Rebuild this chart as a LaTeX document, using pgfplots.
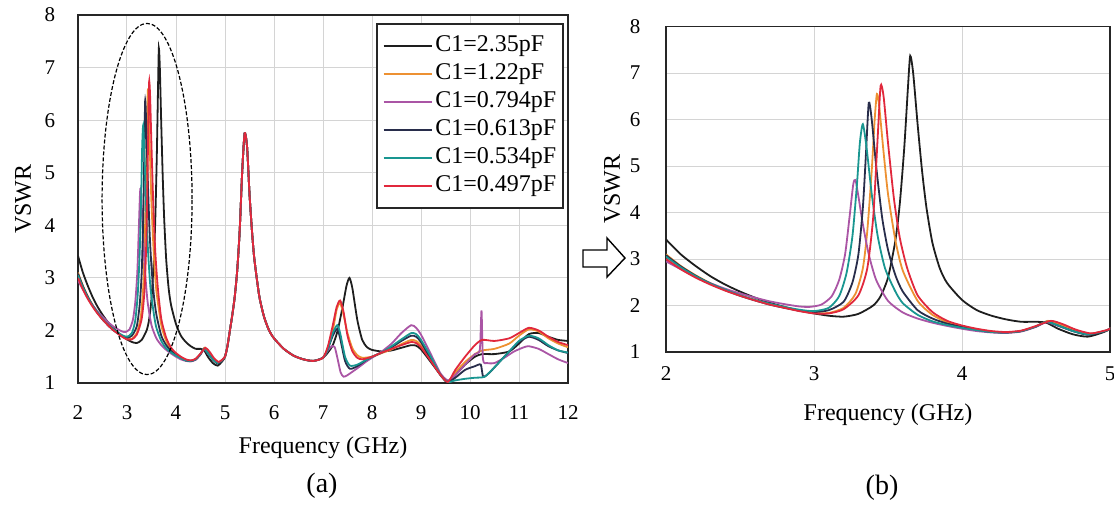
\documentclass[border=0pt]{standalone}
\usepackage{fontspec}
\setmainfont{Liberation Serif}
\usepackage{pgfplots}
\usepackage{pgfplotstable}
\pgfplotsset{compat=1.18}

\definecolor{cBlack}{RGB}{30,30,30}
\definecolor{cOrange}{RGB}{237,145,50}
\definecolor{cPurple}{RGB}{170,85,165}
\definecolor{cNavy}{RGB}{40,45,75}
\definecolor{cTeal}{RGB}{25,150,145}
\definecolor{cRed}{RGB}{225,40,60}
\definecolor{cGrid}{RGB}{212,212,212}

% C1 = 2.35 pF
\pgfplotstableread{
f v
2.0 3.42
2.1 3.1
2.2 2.85
2.3 2.63
2.4 2.45
2.5 2.3
2.6 2.17
2.7 2.06
2.8 1.97
2.9 1.89
3.0 1.83
3.1 1.78
3.2 1.76
3.3 1.82
3.4 2.0
3.45 2.2
3.5 2.6
3.55 3.4
3.58 4.2
3.61 5.4
3.635 6.7
3.65 7.37
3.67 7.0
3.7 5.9
3.73 4.9
3.76 4.1
3.8 3.35
3.85 2.8
3.9 2.48
4.0 2.12
4.1 1.9
4.2 1.78
4.3 1.7
4.4 1.65
4.5 1.65
4.57 1.63
4.65 1.5
4.75 1.38
4.85 1.33
4.95 1.42
5.0 1.5
5.05 1.7
5.1 2.0
5.15 2.3
5.2 2.65
5.25 3.15
5.3 3.9
5.35 5.0
5.4 5.75
5.45 5.5
5.5 4.6
5.55 3.9
5.6 3.35
5.7 2.65
5.8 2.25
5.9 2.0
6.0 1.85
6.2 1.65
6.4 1.52
6.6 1.45
6.8 1.42
7.0 1.48
7.1 1.58
7.2 1.72
7.3 2.0
7.4 2.45
7.48 2.85
7.54 3.0
7.6 2.8
7.7 2.2
7.8 1.82
7.9 1.68
8.0 1.63
8.2 1.6
8.4 1.62
8.6 1.67
8.8 1.72
8.9 1.71
9.0 1.64
9.2 1.4
9.4 1.15
9.55 1.0
9.7 1.15
9.9 1.35
10.1 1.5
10.25 1.55
10.5 1.55
10.8 1.6
11.0 1.75
11.2 1.93
11.4 1.95
11.6 1.88
11.8 1.82
12.0 1.8
}\tA

% C1 = 1.22 pF
\pgfplotstableread{
f v
2.0 3.1
2.1 2.85
2.2 2.65
2.3 2.48
2.4 2.34
2.5 2.22
2.6 2.12
2.7 2.03
2.8 1.96
2.9 1.89
3.0 1.84
3.1 1.84
3.2 1.95
3.28 2.25
3.33 2.8
3.36 3.6
3.39 4.9
3.41 6.0
3.425 6.55
3.44 6.3
3.47 5.3
3.5 4.4
3.55 3.4
3.6 2.75
3.7 2.1
3.8 1.8
3.9 1.64
4.0 1.55
4.1 1.49
4.2 1.44
4.3 1.42
4.4 1.45
4.5 1.55
4.58 1.67
4.66 1.6
4.75 1.48
4.85 1.39
4.95 1.44
5.0 1.5
5.05 1.7
5.1 2.0
5.15 2.3
5.2 2.65
5.25 3.15
5.3 3.9
5.35 5.0
5.4 5.75
5.45 5.5
5.5 4.6
5.55 3.9
5.6 3.35
5.7 2.65
5.8 2.25
5.9 2.0
6.0 1.85
6.2 1.65
6.4 1.52
6.6 1.45
6.8 1.42
7.0 1.48
7.1 1.68
7.2 2.0
7.28 2.4
7.34 2.52
7.4 2.38
7.5 1.95
7.6 1.66
7.7 1.53
7.8 1.48
8.0 1.5
8.2 1.57
8.4 1.64
8.6 1.74
8.8 1.82
8.9 1.8
9.0 1.72
9.2 1.45
9.4 1.15
9.55 1.03
9.7 1.2
9.9 1.4
10.1 1.55
10.25 1.62
10.5 1.65
10.8 1.75
11.0 1.9
11.2 2.02
11.4 1.98
11.6 1.85
11.8 1.75
12.0 1.68
}\tB

% C1 = 0.794 pF
\pgfplotstableread{
f v
2.0 2.95
2.1 2.78
2.2 2.62
2.3 2.48
2.4 2.36
2.5 2.26
2.6 2.17
2.7 2.09
2.8 2.03
2.9 1.98
2.97 1.97
3.05 2.02
3.12 2.2
3.17 2.55
3.21 3.1
3.24 3.9
3.265 4.6
3.28 4.7
3.3 4.35
3.33 3.75
3.37 3.1
3.42 2.55
3.5 2.1
3.6 1.85
3.7 1.72
3.8 1.63
3.9 1.56
4.0 1.5
4.1 1.45
4.2 1.42
4.3 1.41
4.4 1.44
4.5 1.54
4.57 1.64
4.65 1.56
4.75 1.45
4.85 1.38
4.95 1.44
5.0 1.5
5.05 1.7
5.1 2.0
5.15 2.3
5.2 2.65
5.25 3.15
5.3 3.9
5.35 5.0
5.4 5.75
5.45 5.5
5.5 4.6
5.55 3.9
5.6 3.35
5.7 2.65
5.8 2.25
5.9 2.0
6.0 1.85
6.2 1.65
6.4 1.52
6.6 1.45
6.8 1.42
7.0 1.48
7.1 1.62
7.18 1.7
7.24 1.68
7.3 1.45
7.36 1.2
7.42 1.12
7.5 1.15
7.7 1.28
7.9 1.42
8.0 1.48
8.2 1.6
8.4 1.75
8.6 1.95
8.8 2.1
8.9 2.05
9.0 1.92
9.2 1.55
9.4 1.18
9.55 1.05
9.7 1.15
9.9 1.35
10.1 1.55
10.2 1.63
10.235 2.38
10.265 1.45
10.35 1.38
10.5 1.38
10.7 1.48
10.9 1.6
11.1 1.68
11.2 1.7
11.4 1.65
11.6 1.55
11.8 1.45
12.0 1.38
}\tC

% C1 = 0.613 pF
\pgfplotstableread{
f v
2.0 3.08
2.1 2.84
2.2 2.64
2.3 2.47
2.4 2.33
2.5 2.21
2.6 2.11
2.7 2.02
2.8 1.95
2.9 1.89
3.0 1.86
3.1 1.9
3.2 2.08
3.26 2.5
3.3 3.1
3.33 4.1
3.35 5.2
3.37 6.36
3.39 6.0
3.42 5.0
3.46 3.9
3.5 3.2
3.55 2.65
3.6 2.3
3.7 1.9
3.8 1.72
3.9 1.61
4.0 1.54
4.1 1.48
4.2 1.43
4.3 1.42
4.4 1.45
4.5 1.55
4.57 1.65
4.65 1.57
4.75 1.45
4.85 1.37
4.95 1.43
5.0 1.5
5.05 1.7
5.1 2.0
5.15 2.3
5.2 2.65
5.25 3.15
5.3 3.9
5.35 5.0
5.4 5.75
5.45 5.5
5.5 4.6
5.55 3.9
5.6 3.35
5.7 2.65
5.8 2.25
5.9 2.0
6.0 1.85
6.2 1.65
6.4 1.52
6.6 1.45
6.8 1.42
7.0 1.48
7.1 1.65
7.2 1.9
7.29 2.03
7.35 1.85
7.45 1.42
7.55 1.27
7.7 1.32
7.9 1.45
8.0 1.5
8.2 1.58
8.4 1.68
8.6 1.8
8.8 1.9
8.9 1.88
9.0 1.78
9.2 1.45
9.4 1.15
9.55 1.02
9.7 1.1
9.9 1.25
10.1 1.32
10.22 1.35
10.27 1.12
10.4 1.2
10.6 1.4
10.8 1.6
11.0 1.78
11.2 1.88
11.4 1.82
11.6 1.7
11.8 1.62
12.0 1.57
}\tD

% C1 = 0.534 pF
\pgfplotstableread{
f v
2.0 3.05
2.1 2.82
2.2 2.63
2.3 2.47
2.4 2.34
2.5 2.22
2.6 2.12
2.7 2.04
2.8 1.97
2.9 1.91
3.0 1.88
3.1 1.95
3.17 2.2
3.22 2.7
3.26 3.5
3.29 4.6
3.31 5.5
3.33 5.9
3.355 5.4
3.39 4.4
3.43 3.5
3.48 2.8
3.55 2.3
3.6 2.05
3.7 1.8
3.8 1.66
3.9 1.58
4.0 1.52
4.1 1.47
4.2 1.43
4.3 1.42
4.4 1.45
4.5 1.55
4.57 1.65
4.65 1.57
4.75 1.45
4.85 1.38
4.95 1.44
5.0 1.5
5.05 1.7
5.1 2.0
5.15 2.3
5.2 2.65
5.25 3.15
5.3 3.9
5.35 5.0
5.4 5.75
5.45 5.5
5.5 4.6
5.55 3.9
5.6 3.35
5.7 2.65
5.8 2.25
5.9 2.0
6.0 1.85
6.2 1.65
6.4 1.52
6.6 1.45
6.8 1.42
7.0 1.48
7.1 1.65
7.2 1.95
7.29 2.1
7.35 1.95
7.45 1.5
7.55 1.33
7.7 1.35
7.9 1.45
8.0 1.5
8.2 1.58
8.4 1.7
8.6 1.83
8.8 1.95
8.9 1.93
9.0 1.82
9.2 1.5
9.4 1.15
9.55 1.02
9.7 1.05
9.9 1.08
10.1 1.1
10.3 1.12
10.5 1.3
10.8 1.6
11.0 1.8
11.2 1.9
11.4 1.85
11.6 1.72
11.8 1.62
12.0 1.58
}\tE

% C1 = 0.497 pF
\pgfplotstableread{
f v
2.0 3.0
2.1 2.78
2.2 2.6
2.3 2.45
2.4 2.32
2.5 2.21
2.6 2.11
2.7 2.02
2.8 1.95
2.9 1.88
3.0 1.83
3.1 1.83
3.2 1.92
3.3 2.22
3.36 2.8
3.4 3.9
3.43 5.6
3.45 6.72
3.47 6.5
3.5 5.5
3.54 4.3
3.58 3.45
3.63 2.8
3.7 2.22
3.8 1.86
3.9 1.67
4.0 1.57
4.1 1.5
4.2 1.45
4.3 1.43
4.4 1.46
4.5 1.56
4.6 1.67
4.68 1.6
4.77 1.48
4.87 1.4
4.95 1.45
5.0 1.5
5.05 1.7
5.1 2.0
5.15 2.3
5.2 2.65
5.25 3.15
5.3 3.9
5.35 5.0
5.4 5.75
5.45 5.5
5.5 4.6
5.55 3.9
5.6 3.35
5.7 2.65
5.8 2.25
5.9 2.0
6.0 1.85
6.2 1.65
6.4 1.52
6.6 1.45
6.8 1.42
7.0 1.48
7.1 1.7
7.2 2.1
7.28 2.45
7.35 2.57
7.42 2.35
7.5 1.9
7.6 1.6
7.7 1.48
7.8 1.45
8.0 1.5
8.2 1.58
8.4 1.65
8.6 1.72
8.8 1.78
8.9 1.76
9.0 1.68
9.2 1.42
9.4 1.15
9.55 1.02
9.7 1.25
9.9 1.5
10.1 1.72
10.25 1.82
10.5 1.8
10.8 1.85
11.0 1.95
11.2 2.05
11.4 2.0
11.6 1.88
11.8 1.78
12.0 1.72
}\tF

\pgfplotsset{
  vswr/.style={
    scale only axis,
    ymin=1, ymax=8, ytick={1,2,3,4,5,6,7,8},
    grid=major,
    major grid style={cGrid, line width=0.5pt},
    axis line style={black!85, line width=0.9pt},
    major tick length=0pt,
    /pgf/number format/assume math mode=true,
    tick label style={font=\fontsize{10.5}{12}\selectfont},
    ylabel={VSWR}, xlabel={Frequency (GHz)},
    every axis plot/.append style={line width=0.9pt, smooth, tension=0.4},
  }
}

\begin{document}
\begin{tikzpicture}
\useasboundingbox (0pt,0pt) rectangle (557pt,-252pt);

% ---------- (a) ----------
\begin{axis}[vswr,
  at={(39pt,-191.5pt)}, anchor=south west,
  width=245pt, height=184pt,
  xmin=2, xmax=12, xtick={2,3,4,5,6,7,8,9,10,11,12},
  xticklabel style={anchor=center, yshift=-15pt},
  yticklabel style={anchor=center, xshift=-14pt},
  every axis y label/.style={at={([xshift=-27.5pt]axis description cs:0,0.5)}, rotate=90, anchor=center, font=\fontsize{12}{14}\selectfont},
  every axis x label/.style={at={([yshift=-32.5pt]axis description cs:0.5,0)}, anchor=center, font=\fontsize{12}{14}\selectfont},
  legend cell align=left,
  legend image code/.code={\draw[#1, line width=0.7pt] (0pt,0pt) -- (24pt,0pt);},
  legend style={at={(1,1)}, anchor=north east, xshift=-2pt, yshift=-4pt,
    draw=black!85, line width=0.8pt, fill=white,
    font=\fontsize{12}{14}\selectfont,
    inner xsep=3pt, inner ysep=4.5pt,
    nodes={inner sep=0.5pt, text height=9pt, text depth=3pt},
    row sep=1pt, column sep=1pt},
]
\addplot[cBlack]  table[x=f,y=v] {\tA};
\addplot[cOrange] table[x=f,y=v] {\tB};
\addplot[cPurple] table[x=f,y=v] {\tC};
\addplot[cNavy]   table[x=f,y=v] {\tD};
\addplot[cTeal]   table[x=f,y=v] {\tE};
\addplot[cRed]    table[x=f,y=v] {\tF};
\legend{C1=2.35pF, C1=1.22pF, C1=0.794pF, C1=0.613pF, C1=0.534pF, C1=0.497pF}
\draw[black, line width=0.6pt, dash pattern=on 2pt off 1pt] (axis cs:3.41,4.5) ellipse [x radius=22.5pt, y radius=87.8pt];
\end{axis}

% ---------- (b) ----------
\begin{axis}[vswr,
  at={(333pt,-176pt)}, anchor=south west,
  width=222pt, height=162.75pt,
  xmin=2, xmax=5, xtick={2,3,4,5},
  xticklabel style={anchor=center, yshift=-10.75pt},
  yticklabel style={anchor=center, xshift=-15.5pt},
  every axis y label/.style={at={([xshift=-27pt]axis description cs:0,0.5)}, rotate=90, anchor=center, font=\fontsize{12}{14}\selectfont},
  every axis x label/.style={at={([yshift=-31.5pt]axis description cs:0.5,0)}, anchor=center, font=\fontsize{12}{14}\selectfont},
]
\addplot[cBlack]  table[x=f,y=v] {\tA};
\addplot[cOrange] table[x=f,y=v] {\tB};
\addplot[cPurple] table[x=f,y=v] {\tC};
\addplot[cNavy]   table[x=f,y=v] {\tD};
\addplot[cTeal]   table[x=f,y=v] {\tE};
\addplot[cRed]    table[x=f,y=v] {\tF};
\end{axis}

% arrow between panels
\draw[black, line width=0.7pt, fill=white]
  (291.5pt,-125pt) -- (303.5pt,-125pt) -- (303.5pt,-119pt) -- (312.5pt,-129pt)
  -- (303.5pt,-138.5pt) -- (303.5pt,-133.5pt) -- (291.5pt,-133.5pt) -- cycle;

\node[font=\fontsize{14}{16}\selectfont] at (161pt,-243pt) {(a)};
\node[font=\fontsize{14}{16}\selectfont] at (441pt,-244pt) {(b)};
\end{tikzpicture}
\end{document}
